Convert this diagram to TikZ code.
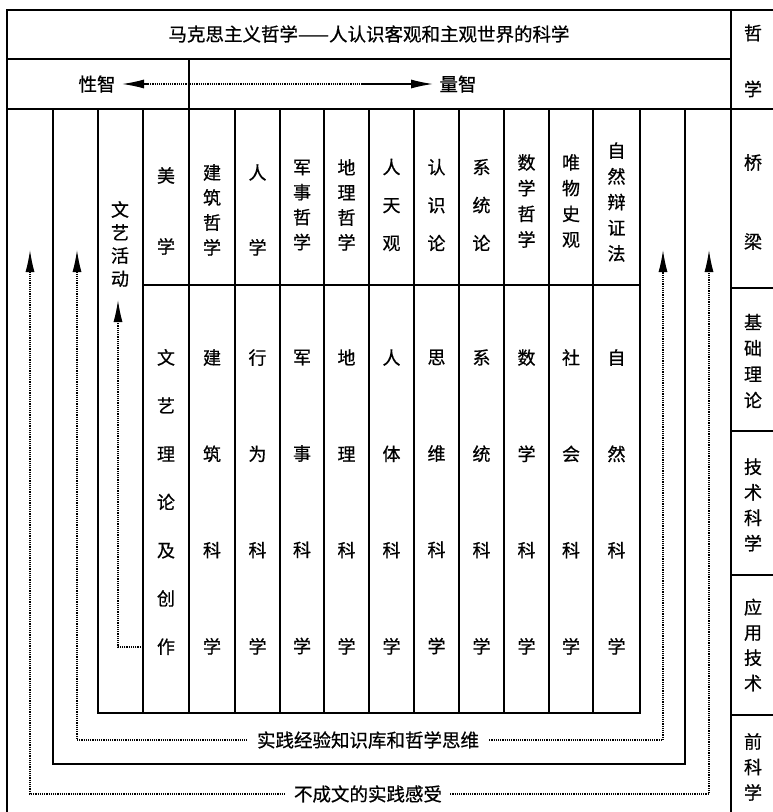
\documentclass[tikz,border=0pt]{standalone}
\usepackage{fontspec}
\newfontfamily\cjk[FakeBold=0.7]{Noto Sans CJK SC}
\usetikzlibrary{arrows.meta}
\tikzset{
  frame/.style={line width=1.5pt, line cap=rect},
  dotline/.style={line width=1.2pt, densely dotted},
  tipend/.style={-{Latex[length=22pt,width=9pt]}},
  tipstart/.style={{Latex[length=22pt,width=9pt]}-},
  lbl/.style={font=\cjk\fontsize{18.5}{18.5}\selectfont, inner sep=0pt},
  gaplbl/.style={font=\cjk\fontsize{18.5}{18.5}\selectfont, inner ysep=0pt, inner xsep=#1},
  stackv/.style={font=\cjk\fontsize{18}{#1}\selectfont, inner sep=0pt, align=center}
}
\begin{document}
\begin{tikzpicture}[x=1pt,y=-1pt]
\useasboundingbox (0,0) rectangle (773,812);
% frame
\draw[frame] (7,812) -- (7,10) -- (773,10);
\draw[frame] (7,59) -- (731,59);
\draw[frame] (7,109) -- (773,109);
\draw[frame] (731,10) -- (731,812);
\draw[frame] (189,59) -- (189,109);
\draw[frame] (53,109) -- (53,764) -- (685,764) -- (685,109);
\draw[frame] (98,109) -- (98,713) -- (640,713) -- (640,109);
\foreach \x in {143,189,235,280,324,369,414,459,504,549,593}
  \draw[frame] (\x,109) -- (\x,713);
\draw[frame] (143,285) -- (640,285);
\foreach \y in {288,431,575,715}
  \draw[frame] (731,\y) -- (773,\y);

% title row
\node[lbl] (title) at (369,34) {马克思主义哲学——人认识客观和主观世界的科学};
% row 2
\node[lbl] (xz) at (97,84) {性智};
\node[lbl] (lz) at (458,84) {量智};
\coordinate (a1) at (122,84);
\coordinate (a2) at (148,84);
\coordinate (a3) at (362,84);
\coordinate (a4) at (433,84);
\draw[dotline] (a2) -- (a3);
\draw[line width=1.3pt, tipend] (a2) -- (a1);
\draw[line width=1.3pt, tipend] (a3) -- (a4);

% upper row
\node[stackv=23] (wyhd) at (120,244) {文\\艺\\活\\动};
\node[stackv=71] (mx) at (166,211) {美\\学};
\node[stackv=25] (jzzx) at (212,210) {建\\筑\\哲\\学};
\node[stackv=75] (rx) at (257.5,210) {人\\学};
\node[stackv=25] (jszx) at (302,205) {军\\事\\哲\\学};
\node[stackv=25] (dlzx) at (346.5,205) {地\\理\\哲\\学};
\node[stackv=38] (rtg) at (391.5,205) {人\\天\\观};
\node[stackv=38] (rsl) at (436.5,205) {认\\识\\论};
\node[stackv=38] (xtl) at (481.5,205) {系\\统\\论};
\node[stackv=25.7] (sxzx) at (526.5,201) {数\\学\\哲\\学};
\node[stackv=25.7] (wwsg) at (571,201) {唯\\物\\史\\观};
\node[stackv=25.7] (zrbzf) at (616.5,202) {自\\然\\辩\\证\\法};

% lower row
\node[stackv=48.2] (wyll) at (166,502) {文\\艺\\理\\论\\及\\创\\作};
\node[stackv=96.3] (jzkx) at (212,502) {建\\筑\\科\\学};
\node[stackv=96.3] (xwkx) at (257.5,502) {行\\为\\科\\学};
\node[stackv=96.3] (jskx) at (302,502) {军\\事\\科\\学};
\node[stackv=96.3] (dlkx) at (346.5,502) {地\\理\\科\\学};
\node[stackv=96.3] (rtkx) at (391.5,502) {人\\体\\科\\学};
\node[stackv=96.3] (swkx) at (436.5,502) {思\\维\\科\\学};
\node[stackv=96.3] (xtkx) at (481.5,502) {系\\统\\科\\学};
\node[stackv=96.3] (sxkx) at (526.5,502) {数\\学\\科\\学};
\node[stackv=96.3] (shkx) at (571,502) {社\\会\\科\\学};
\node[stackv=96.3] (zrkx) at (616.5,502) {自\\然\\科\\学};

% right column
\node[stackv=56] (zx) at (753,61) {哲\\学};
\node[stackv=79] (ql) at (753,202) {桥\\梁};
\node[stackv=26] (jcll) at (753,361) {基\\础\\理\\论};
\node[stackv=25.5] (jskx2) at (753,505) {技\\术\\科\\学};
\node[stackv=25.3] (yyjs) at (753,645) {应\\用\\技\\术};
\node[stackv=25.5] (qkx) at (753,767) {前\\科\\学};

% loops
\node[gaplbl=8pt] (lab1) at (368,794) {不成文的实践感受};
\coordinate (o1) at (30,250);
\coordinate (o2) at (30,794);
\coordinate (o3) at (709,794);
\coordinate (o4) at (709,250);
\draw[dotline, tipstart] (o1) -- (o2) -- (lab1.west);
\draw[dotline, tipend] (lab1.east) -- (o3) -- (o4);

\node[gaplbl=10pt] (lab2) at (368,740) {实践经验知识库和哲学思维};
\coordinate (p1) at (77,250);
\coordinate (p2) at (77,740);
\coordinate (p3) at (663,740);
\coordinate (p4) at (663,250);
\draw[dotline, tipstart] (p1) -- (p2) -- (lab2.west);
\draw[dotline, tipend] (lab2.east) -- (p3) -- (p4);

\coordinate (i1) at (143,647);
\coordinate (i2) at (118,647);
\coordinate (i3) at (118,300);
\draw[dotline, tipend] (i1) -- (i2) -- (i3);
\end{tikzpicture}
\end{document}
